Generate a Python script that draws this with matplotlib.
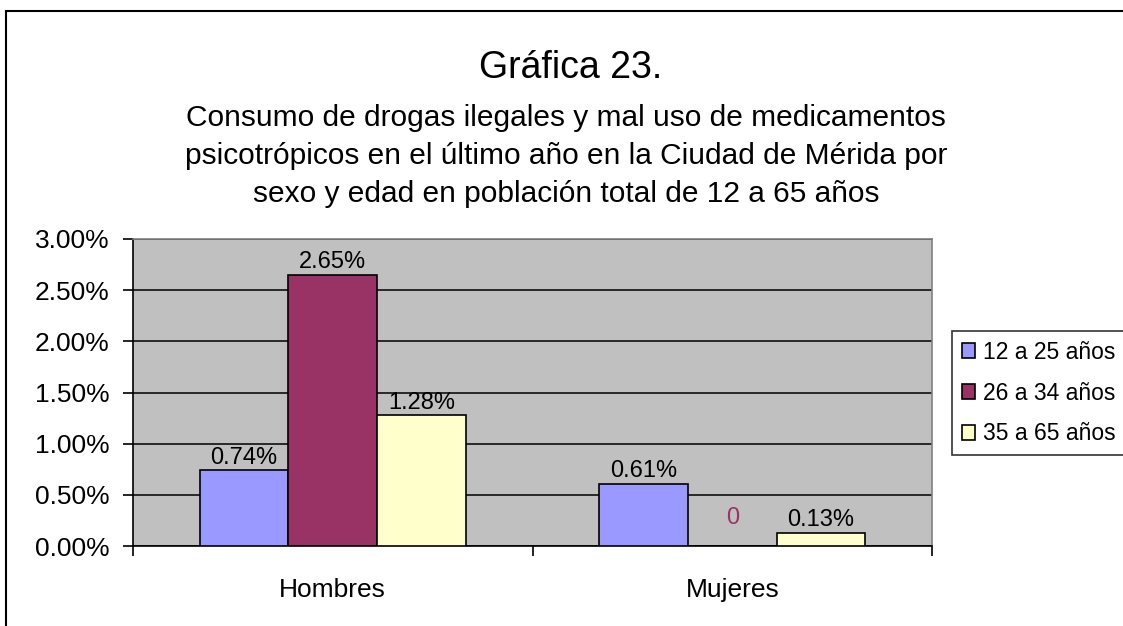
import numpy as np
import matplotlib.pyplot as plt
from matplotlib.patches import Rectangle

plt.rcParams['font.family'] = ['Liberation Sans', 'DejaVu Sans']

categorias = ['Hombres', 'Mujeres']
series = ['12 a 25 años', '26 a 34 años', '35 a 65 años']
valores_12_25 = [0.74, 0.61]
valores_26_34 = [2.65, 0.0]
valores_35_65 = [1.28, 0.13]
etiquetas_12_25 = ['0.74%', '0.61%']
etiquetas_26_34 = ['2.65%', '0']
etiquetas_35_65 = ['1.28%', '0.13%']
y_ticks = [0.0, 0.5, 1.0, 1.5, 2.0, 2.5, 3.0]

colores = ['#9999FF', '#993366', '#FFFFCC']
color_etiquetas = [['black', 'black'], ['black', '#993366'], ['black', 'black']]

fig = plt.figure(figsize=(11.23, 6.26), dpi=100)

# marco exterior del grafico
fig.patches.append(Rectangle((6 / 1123, -0.1), 1.2, 1 - 11 / 626 + 0.1,
                             transform=fig.transFigure, fill=False,
                             edgecolor='black', linewidth=1.5))

ax = fig.add_axes([133 / 1123, 1 - 546 / 626, 799 / 1123, 307 / 626])
ax.set_facecolor('#C0C0C0')

x = np.arange(len(categorias))
ancho = 0.222
datos = [valores_12_25, valores_26_34, valores_35_65]
etiquetas = [etiquetas_12_25, etiquetas_26_34, etiquetas_35_65]
for i in range(3):
    barras = ax.bar(x + (i - 1) * ancho, datos[i], ancho, color=colores[i],
                    edgecolor='black', linewidth=1.2, label=series[i], zorder=3)
    for j, b in enumerate(barras):
        off = 1 if datos[i][j] > 0 else 12
        ax.annotate(etiquetas[i][j], (b.get_x() + b.get_width() / 2, b.get_height()),
                    xytext=(0, off), textcoords='offset points', ha='center',
                    va='bottom', fontsize=17, color=color_etiquetas[i][j])

ax.set_ylim(0, 3.0)
ax.set_xlim(-0.5, 1.5)
ax.set_yticks(y_ticks)
ax.set_yticklabels([f'{v:.2f}%' for v in y_ticks], fontsize=19)
ax.yaxis.grid(True, color='black', linewidth=1.1, zorder=1)
ax.set_axisbelow(True)

ax.set_xticks(x)
ax.set_xticklabels(categorias, fontsize=19)
ax.set_xticks([-0.5, 0.5, 1.5], minor=True)
ax.tick_params(axis='x', which='major', length=0, pad=23)
ax.tick_params(axis='x', which='minor', length=7, width=1.2, direction='out')
ax.tick_params(axis='y', length=7, width=1.2, direction='out', pad=10)

for s in ['top', 'right']:
    ax.spines[s].set_color('#808080')
    ax.spines[s].set_linewidth(1.2)
for s in ['left', 'bottom']:
    ax.spines[s].set_color('black')
    ax.spines[s].set_linewidth(1.2)

fig.text(571 / 1123, 1 - 68 / 626, 'Gráfica 23.', ha='center', va='center', fontsize=27)
fig.text(566 / 1123, 1 - 156 / 626,
         'Consumo de drogas ilegales y mal uso de medicamentos\n'
         'psicotrópicos en el último año en la Ciudad de Mérida por\n'
         'sexo y edad en población total de 12 a 65 años',
         ha='center', va='center', fontsize=21.5, linespacing=1.45)

leg = fig.legend(loc='upper left', bbox_to_anchor=(952 / 1123, 1 - 331 / 626),
                 fontsize=16.5, frameon=True, fancybox=False, edgecolor='black',
                 handlelength=0.6, handleheight=0.6, handletextpad=0.35,
                 labelspacing=0.78, borderpad=0.42, borderaxespad=0)
leg.get_frame().set_linewidth(1.2)

fig.savefig('out.png', dpi=100)
